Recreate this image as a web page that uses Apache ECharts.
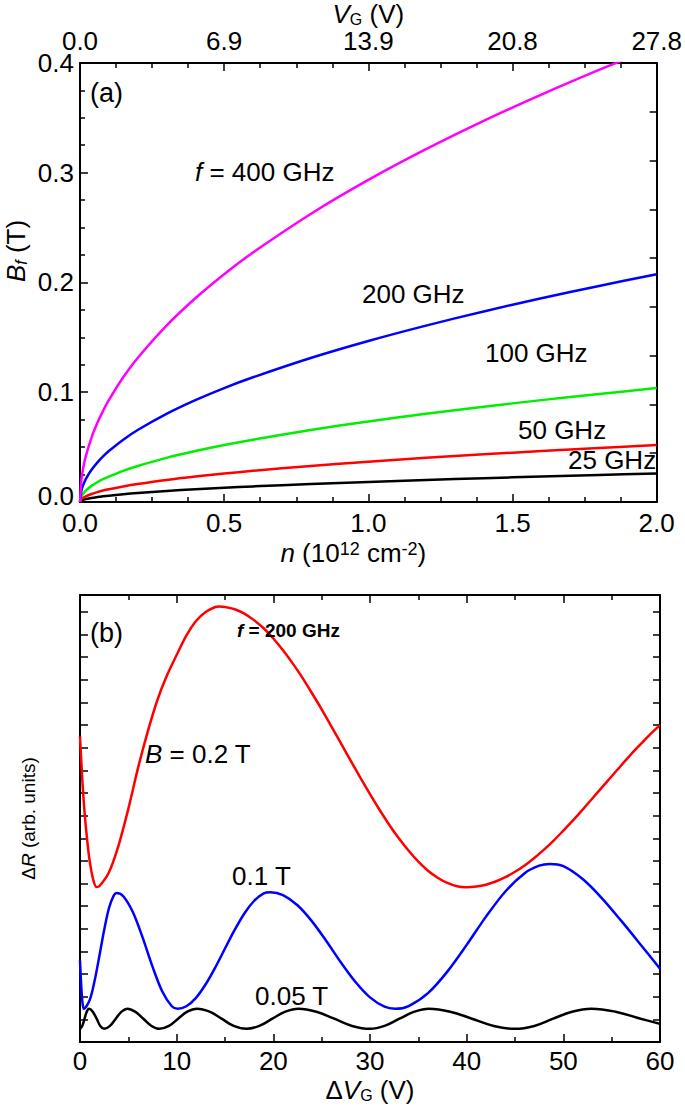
<!DOCTYPE html>
<html>
<head>
<meta charset="utf-8">
<script src="https://cdn.jsdelivr.net/npm/echarts@6/dist/echarts.min.js"></script>
<style>
html,body{margin:0;padding:0;background:#fff;}
#c{width:685px;height:1107px;}
</style>
</head>
<body>
<div id="c"></div>
<script>
// ---------- Panel (a): B_f vs n ----------
const nVals = [0, 0.005, 0.01, 0.02, 0.04, 0.06, 0.08, 0.1, 0.15, 0.2, 0.3, 0.4, 0.5, 0.6, 0.8, 1.0, 1.2, 1.4, 1.6, 1.8, 2.0];
const bf400 = [0, 0.0207, 0.0293, 0.0415, 0.0587, 0.0719, 0.0830, 0.0928, 0.1136, 0.1312, 0.1607, 0.1856, 0.2075, 0.2273, 0.2624, 0.2934, 0.3214, 0.3472, 0.3711, 0.3936, 0.415];
const bf200 = [0, 0.0104, 0.0147, 0.0208, 0.0293, 0.0359, 0.0415, 0.0464, 0.0568, 0.0656, 0.0803, 0.0928, 0.1038, 0.1136, 0.1312, 0.1467, 0.1607, 0.1736, 0.1856, 0.1968, 0.2075];
const bf100 = [0, 0.0052, 0.0073, 0.0104, 0.0147, 0.0180, 0.0208, 0.0232, 0.0284, 0.0328, 0.0402, 0.0464, 0.0519, 0.0568, 0.0656, 0.0734, 0.0804, 0.0868, 0.0928, 0.0984, 0.1038];
const bf50  = [0, 0.0026, 0.0037, 0.0052, 0.0073, 0.0090, 0.0104, 0.0116, 0.0142, 0.0164, 0.0201, 0.0232, 0.0259, 0.0284, 0.0328, 0.0367, 0.0402, 0.0434, 0.0464, 0.0492, 0.0519];
const bf25  = [0, 0.0013, 0.0018, 0.0026, 0.0037, 0.0045, 0.0052, 0.0058, 0.0071, 0.0082, 0.0100, 0.0116, 0.0130, 0.0142, 0.0164, 0.0183, 0.0201, 0.0217, 0.0232, 0.0246, 0.0259];
const vgTopLabels = ['0.0', '6.9', '13.9', '20.8', '27.8'];

// ---------- Panel (b): ΔR vs ΔV_G (arb. units) ----------
const dvRed = [0, 0.25, 0.5, 0.75, 1.0, 1.35, 1.7, 2, 3, 4, 5, 6, 7, 8, 9, 10, 11, 12, 13, 14, 14.4, 15, 16, 17, 18, 19, 20, 21, 22, 23, 24, 25, 26, 27, 28, 29, 30, 31, 32, 33, 34, 35, 36, 37, 38, 39, 40, 41, 42, 43, 44, 45, 46, 47, 48, 49, 50, 51, 52, 53, 54, 55, 56, 57, 58, 59, 60];
const rRed  = [13.5, 11.5, 10.0, 8.9, 8.0, 7.2, 6.85, 6.88, 7.5, 8.7, 10.3, 12.1, 13.7, 15.1, 16.2, 17.1, 17.95, 18.6, 19.0, 19.22, 19.24, 19.22, 19.12, 18.93, 18.64, 18.28, 17.83, 17.31, 16.73, 16.10, 15.41, 14.70, 13.95, 13.19, 12.43, 11.68, 10.95, 10.25, 9.59, 8.99, 8.45, 7.97, 7.57, 7.26, 7.03, 6.88, 6.84, 6.87, 6.95, 7.09, 7.28, 7.52, 7.80, 8.13, 8.50, 8.90, 9.34, 9.79, 10.27, 10.76, 11.25, 11.74, 12.23, 12.71, 13.16, 13.60, 14.0];
const dvBlue = [0, 0.1, 0.2, 0.3, 0.4, 1.0, 1.5, 2.0, 2.5, 3.0, 3.5, 3.8, 4.5, 5.5, 6.5, 7.5, 8.5, 9.5, 10.1, 11, 12, 13, 14, 15, 16, 17, 18, 19, 19.7, 21, 22.5, 24, 25.5, 27, 28.5, 30, 31.5, 32.6, 34, 36, 38, 40, 42, 44, 46, 47.5, 48.6, 50, 52, 54, 56, 58, 60];
const rBlue  = [3.6, 2.7, 2.0, 1.6, 1.47, 1.85, 2.68, 3.79, 4.95, 5.92, 6.48, 6.58, 6.43, 5.71, 4.59, 3.33, 2.24, 1.58, 1.47, 1.58, 1.95, 2.55, 3.30, 4.13, 4.95, 5.68, 6.23, 6.57, 6.62, 6.49, 6.04, 5.33, 4.45, 3.51, 2.65, 1.97, 1.56, 1.47, 1.59, 2.16, 3.11, 4.29, 5.54, 6.65, 7.46, 7.79, 7.87, 7.77, 7.2, 6.35, 5.35, 4.3, 3.24];
const dvBlack = [0, 0.23, 0.47, 0.7, 0.93, 1.32, 1.72, 2.1, 2.5, 3.1, 3.7, 4.3, 4.9, 5.7, 6.55, 7.4, 8.2, 9.2, 10.15, 11.1, 12.1, 13.4, 14.65, 15.9, 17.2, 18.55, 19.9, 21.25, 22.6, 24.45, 26.3, 28.15, 30.0, 31.5, 33.05, 34.6, 36.1, 38.3, 40.55, 42.8, 45.0, 47.0, 48.95, 50.9, 52.9, 55.4, 58.0, 60.0];
const rBlack  = [0.58, 0.71, 1.03, 1.34, 1.47, 1.34, 1.03, 0.71, 0.58, 0.71, 1.03, 1.34, 1.47, 1.34, 1.03, 0.71, 0.58, 0.71, 1.03, 1.34, 1.47, 1.34, 1.03, 0.71, 0.58, 0.71, 1.03, 1.34, 1.47, 1.34, 1.03, 0.71, 0.58, 0.71, 1.03, 1.34, 1.47, 1.34, 1.03, 0.71, 0.58, 0.71, 1.03, 1.34, 1.47, 1.34, 1.03, 0.8];

const zip = (xs, ys) => xs.map((x, i) => [x, ys[i]]);

const FONT = "'Liberation Sans', Arial, sans-serif";
const FS = 26;
const axisLine = { show: true, onZero: false, lineStyle: { color: '#000', width: 2 } };
const tickStyle = { color: '#000', width: 1.5 };

function richName(size, extra) {
  return Object.assign({
    fontFamily: FONT, fontSize: size, color: '#000',
    rich: {
      i: { fontFamily: FONT, fontSize: size, fontStyle: 'italic', color: '#000' },
      sup: { fontFamily: FONT, fontSize: Math.round(size * 0.68), color: '#000', verticalAlign: 'top', lineHeight: size },
      sub: { fontFamily: FONT, fontSize: Math.round(size * 0.62), color: '#000', verticalAlign: 'bottom', lineHeight: size }
    }
  }, extra || {});
}

const chart = echarts.init(document.getElementById('c'), null, { renderer: 'svg' });

const option = {
  backgroundColor: '#fff',
  animation: false,
  grid: [
    { left: 80, right: 25, top: 60, height: 442 },
    { left: 80, right: 25, top: 595, height: 447 }
  ],
  xAxis: [
    { gridIndex: 0, type: 'value', position: 'bottom', min: 0, max: 2, interval: 0.5,
      axisLine, splitLine: { show: false },
      axisTick: { show: true, inside: true, length: 8, lineStyle: tickStyle },
      minorTick: { show: true, splitNumber: 4, length: 5, lineStyle: tickStyle },
      axisLabel: { fontFamily: FONT, fontSize: FS, color: '#000', margin: 8, formatter: v => v.toFixed(1) },
      name: '{i|n} (10{sup|12} cm{sup|-2})', nameLocation: 'middle', nameGap: 38,
      nameTextStyle: richName(FS, { padding: [0, 30, 0, 0] }) },
    { gridIndex: 0, type: 'value', position: 'top', min: 0, max: 2, interval: 0.5,
      axisLine, splitLine: { show: false },
      axisTick: { show: true, inside: true, length: 8, lineStyle: tickStyle },
      minorTick: { show: true, splitNumber: 4, length: 5, lineStyle: tickStyle },
      axisLabel: { fontFamily: FONT, fontSize: FS, color: '#000', margin: 9,
        formatter: v => vgTopLabels[Math.round(v / 0.5)] },
      name: '{i|V}{sub|G} (V)', nameLocation: 'middle', nameGap: 35, nameTextStyle: richName(FS) },
    { gridIndex: 1, type: 'value', position: 'bottom', min: 0, max: 60, interval: 10,
      axisLine, splitLine: { show: false },
      axisTick: { show: true, inside: true, length: 8, lineStyle: tickStyle },
      minorTick: { show: true, splitNumber: 2, length: 5, lineStyle: tickStyle },
      axisLabel: { fontFamily: FONT, fontSize: FS, color: '#000', margin: 6 },
      name: 'Δ{i|V}{sub|G} (V)', nameLocation: 'middle', nameGap: 35, nameTextStyle: richName(FS) },
    { gridIndex: 1, type: 'value', position: 'top', min: 0, max: 60, interval: 10,
      axisLine, splitLine: { show: false },
      axisTick: { show: true, inside: true, length: 8, lineStyle: tickStyle },
      minorTick: { show: true, splitNumber: 2, length: 5, lineStyle: tickStyle },
      axisLabel: { show: false } }
  ],
  yAxis: [
    { gridIndex: 0, type: 'value', position: 'left', min: 0, max: 0.4, interval: 0.1,
      axisLine, splitLine: { show: false },
      axisTick: { show: true, inside: true, length: 8, lineStyle: tickStyle },
      minorTick: { show: true, splitNumber: 4, length: 5, lineStyle: tickStyle },
      axisLabel: { fontFamily: FONT, fontSize: FS, color: '#000', margin: 6,
        formatter: v => v === 0 ? '{z|0.0}' : v.toFixed(1),
        rich: { z: { fontFamily: FONT, fontSize: FS, color: '#000', padding: [0, 0, 12, 0] } } } },
    { gridIndex: 0, type: 'value', position: 'right', min: 0, max: 9, interval: 1,
      axisLine, splitLine: { show: false },
      axisTick: { show: true, inside: true, length: 7, lineStyle: tickStyle },
      axisLabel: { show: false } },
    { gridIndex: 1, type: 'value', position: 'left', min: 0, max: 19.75, interval: 1,
      axisLine, splitLine: { show: false },
      axisTick: { show: true, inside: true, length: 8, lineStyle: tickStyle },
      axisLabel: { show: false },
      name: 'Δ{i|R} (arb. units)', nameLocation: 'middle', nameGap: 42, nameRotate: 90, nameTextStyle: richName(19) },
    { gridIndex: 1, type: 'value', position: 'right', min: 0, max: 19.75, interval: 1,
      axisLine, splitLine: { show: false },
      axisTick: { show: true, inside: true, length: 7, lineStyle: tickStyle },
      axisLabel: { show: false } }
  ],
  series: [
    { type: 'line', xAxisIndex: 0, yAxisIndex: 0, data: zip(nVals, bf25),  smooth: 0.3, symbol: 'none', lineStyle: { color: '#000000', width: 2.5 } },
    { type: 'line', xAxisIndex: 0, yAxisIndex: 0, data: zip(nVals, bf50),  smooth: 0.3, symbol: 'none', lineStyle: { color: '#ff0000', width: 2.5 } },
    { type: 'line', xAxisIndex: 0, yAxisIndex: 0, data: zip(nVals, bf100), smooth: 0.3, symbol: 'none', lineStyle: { color: '#00ee00', width: 2.5 } },
    { type: 'line', xAxisIndex: 0, yAxisIndex: 0, data: zip(nVals, bf200), smooth: 0.3, symbol: 'none', lineStyle: { color: '#0000ff', width: 2.5 } },
    { type: 'line', xAxisIndex: 0, yAxisIndex: 0, data: zip(nVals, bf400), smooth: 0.3, symbol: 'none', clip: true, lineStyle: { color: '#ff00ff', width: 2.5 } },
    { type: 'line', xAxisIndex: 2, yAxisIndex: 2, data: zip(dvRed, rRed),     smooth: 0.3, symbol: 'none', lineStyle: { color: '#ff0000', width: 2.5 } },
    { type: 'line', xAxisIndex: 2, yAxisIndex: 2, data: zip(dvBlue, rBlue),   smooth: 0.3, symbol: 'none', lineStyle: { color: '#0000ff', width: 2.5 } },
    { type: 'line', xAxisIndex: 2, yAxisIndex: 2, data: zip(dvBlack, rBlack), smooth: 0.4, symbol: 'none', lineStyle: { color: '#000000', width: 2.5 } }
  ],
  graphic: []
};

function txt(left, cy, text, size, extra) {
  const fw = (extra && extra.fontWeight) || 'normal';
  return {
    type: 'text', left: left, top: cy - size * 0.6, z: 100,
    style: Object.assign({
      text: text, fill: '#000', fontFamily: FONT, fontSize: size,
      rich: {
        i: { fontFamily: FONT, fontSize: size, fontStyle: 'italic', fill: '#000', fontWeight: fw }
      }
    }, extra || {})
  };
}
option.graphic = [
  txt(90, 96, '(a)', 27),
  txt(195, 175, '{i|f} = 400 GHz', 26),
  txt(362, 297, '200 GHz', 26),
  txt(485, 356, '100 GHz', 26),
  txt(518, 433, '50 GHz', 26),
  txt(568, 463, '25 GHz', 26),
  txt(90, 636, '(b)', 27),
  txt(237, 632, '{i|f} = 200 GHz', 19, { fontWeight: 'bold' }),
  txt(145, 757, '{i|B} = 0.2 T', 26),
  txt(232, 879, '0.1 T', 26),
  txt(255, 999, '0.05 T', 26),
  // rotated y-axis title of panel (a)
  {
    type: 'text', x: 16, y: 251, rotation: Math.PI / 2, z: 100,
    style: {
      text: '{i|B}{s|f} (T)', fill: '#000', fontFamily: FONT, fontSize: 26,
      align: 'center', verticalAlign: 'middle',
      rich: {
        i: { fontFamily: FONT, fontSize: 26, fontStyle: 'italic', fill: '#000' },
        s: { fontFamily: FONT, fontSize: 16, fontStyle: 'italic', fill: '#000', verticalAlign: 'bottom', lineHeight: 26 }
      }
    }
  }
];

chart.setOption(option);
</script>
</body>
</html>
